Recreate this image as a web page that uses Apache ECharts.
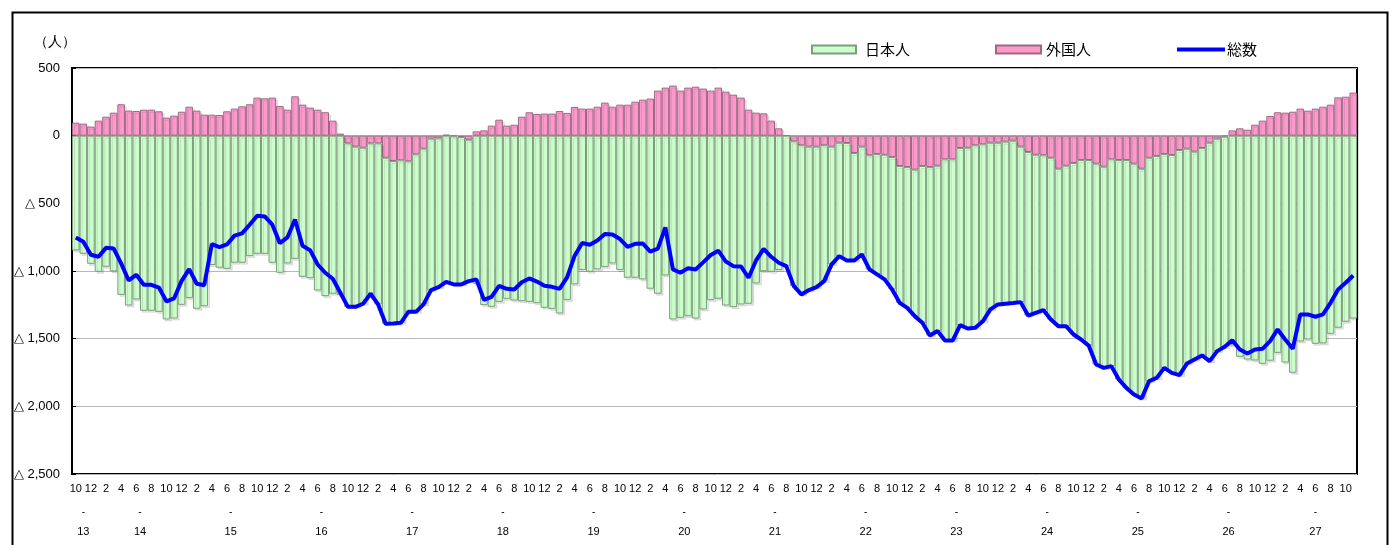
<!DOCTYPE html>
<html>
<head>
<meta charset="utf-8">
<script src="https://cdn.jsdelivr.net/npm/echarts@6/dist/echarts.min.js"></script>
<style>
  html, body { margin: 0; padding: 0; background: #fff; }
  #main { width: 1397px; height: 545px; }
</style>
</head>
<body>
<div id="main"></div>
<script>
// 平成13年10月 ～ 平成27年11月（月次）
var startYear = 13;
var startMonth = 10;
var monthCount = 170;

var yTicks = [500, 0, -500, -1000, -1500, -2000, -2500];

// 外国人（人）
var foreign = [
    96, 89, 67, 111, 140, 170, 232, 185, 182, 192,
    192, 180, 133, 148, 177, 214, 185, 155, 155, 153,
    180, 200, 217, 232, 281, 276, 281, 219, 192, 291,
    229, 207, 192, 173, 111, 15, -57, -81, -89, -57,
    -57, -163, -187, -182, -190, -138, -96, -22, -20, 7,
    -5, -10, -30, 32, 39, 74, 118, 74, 81, 140,
    173, 160, 163, 163, 182, 168, 212, 200, 200, 214,
    244, 214, 229, 229, 251, 266, 274, 333, 355, 370,
    333, 355, 362, 348, 333, 355, 325, 303, 281, 192,
    170, 165, 111, 54, 2, -42, -71, -81, -81, -71,
    -81, -52, -54, -128, -81, -145, -136, -141, -158, -224,
    -232, -251, -224, -232, -222, -175, -175, -91, -89, -71,
    -64, -52, -52, -44, -37, -81, -121, -141, -145, -163,
    -244, -222, -202, -180, -180, -207, -229, -175, -180, -180,
    -207, -244, -163, -150, -136, -143, -106, -96, -118, -91,
    -52, -22, -7, 39, 54, 44, 81, 111, 145, 173,
    170, 177, 200, 185, 200, 214, 229, 283, 288, 318
];

// 日本人（人）
var japanese = [
    -848, -873, -947, -1006, -969, -1003, -1176, -1255, -1210, -1294,
    -1294, -1302, -1358, -1351, -1250, -1200, -1279, -1260, -956, -976,
    -984, -939, -939, -890, -873, -873, -939, -1013, -944, -910,
    -1043, -1053, -1144, -1186, -1168, -1176, -1208, -1184, -1153, -1111,
    -1190, -1227, -1201, -1201, -1112, -1164, -1151, -1119, -1099, -1087,
    -1094, -1089, -1045, -1094, -1252, -1265, -1228, -1206, -1218, -1223,
    -1228, -1238, -1272, -1280, -1314, -1215, -1099, -993, -1006, -988,
    -971, -944, -993, -1050, -1050, -1062, -1131, -1168, -1033, -1358,
    -1346, -1334, -1351, -1284, -1215, -1205, -1255, -1267, -1247, -1242,
    -1092, -1001, -1006, -993, -966, -1070, -1102, -1060, -1038, -1004,
    -870, -838, -868, -794, -797, -843, -889, -921, -978, -1011,
    -1040, -1083, -1159, -1245, -1222, -1339, -1339, -1309, -1336, -1349,
    -1307, -1232, -1195, -1198, -1200, -1149, -1208, -1168, -1144, -1195,
    -1164, -1186, -1267, -1326, -1371, -1484, -1487, -1528, -1622, -1684,
    -1706, -1698, -1651, -1640, -1580, -1610, -1664, -1588, -1536, -1533,
    -1614, -1570, -1553, -1550, -1634, -1654, -1661, -1686, -1663, -1605,
    -1676, -1752, -1521, -1506, -1538, -1535, -1464, -1419, -1375, -1351
];

// 総数（人）
var total = [
    -752, -784, -880, -895, -829, -833, -944, -1070, -1028, -1102,
    -1102, -1122, -1225, -1203, -1073, -986, -1094, -1105, -801, -823,
    -804, -739, -722, -658, -592, -597, -658, -794, -752, -619,
    -814, -846, -952, -1013, -1057, -1161, -1265, -1265, -1242, -1168,
    -1247, -1390, -1388, -1383, -1302, -1302, -1247, -1141, -1119, -1080,
    -1099, -1099, -1075, -1062, -1213, -1191, -1110, -1132, -1137, -1083,
    -1055, -1078, -1109, -1117, -1132, -1047, -887, -793, -806, -774,
    -727, -730, -764, -821, -799, -796, -857, -835, -678, -988,
    -1013, -979, -989, -936, -882, -850, -930, -964, -966, -1050,
    -922, -836, -895, -939, -964, -1112, -1173, -1141, -1119, -1075,
    -951, -890, -922, -922, -878, -988, -1025, -1062, -1136, -1235,
    -1272, -1334, -1383, -1477, -1444, -1514, -1514, -1400, -1425, -1420,
    -1371, -1284, -1247, -1242, -1237, -1230, -1329, -1309, -1289, -1358,
    -1408, -1408, -1469, -1506, -1551, -1691, -1716, -1703, -1802, -1864,
    -1913, -1942, -1814, -1790, -1716, -1753, -1770, -1684, -1654, -1624,
    -1666, -1592, -1560, -1511, -1580, -1610, -1580, -1575, -1518, -1432,
    -1506, -1575, -1321, -1321, -1338, -1321, -1235, -1136, -1087, -1033
];

// 月ラベルと年
var months = [];
var years = [];
for (var i = 0; i < monthCount; i++) {
    var m = (startMonth - 1 + i) % 12 + 1;
    var y = startYear + Math.floor((startMonth - 1 + i) / 12);
    months.push(String(m));
    years.push(y);
}

var numFont = "'Liberation Sans Narrow', 'Liberation Sans', sans-serif";
var jpFont = "'Noto Sans CJK JP', sans-serif";

function yLabel(v) {
    if (v >= 0) return String(v);
    var s = String(-v).replace(/\B(?=(\d{3})+(?!\d))/g, ',');
    return '△ ' + s;
}

var myChart = echarts.init(document.getElementById('main'));

var option = {
    animation: false,
    grid: {
        left: 72,
        right: 40,
        top: 68,
        bottom: 71,
        show: true,
        borderColor: '#000',
        borderWidth: 2
    },
    legend: [
        {
            data: [{ name: '日本人', icon: 'rect' }], left: 806, top: 37,
            itemWidth: 44, itemHeight: 8,
            textStyle: { fontSize: 15, color: '#000', fontFamily: jpFont, padding: [0, 0, 0, 4] }
        },
        {
            data: [{ name: '外国人', icon: 'rect' }], left: 990, top: 37,
            itemWidth: 45, itemHeight: 8,
            textStyle: { fontSize: 15, color: '#000', fontFamily: jpFont }
        },
        {
            data: [{ name: '総数', icon: 'rect' }], left: 1172, top: 37,
            itemWidth: 48, itemHeight: 4,
            textStyle: { fontSize: 15, color: '#000', fontFamily: jpFont, padding: [0, 0, 0, -3] }
        }
    ],
    xAxis: {
        type: 'category',
        data: months,
        axisLine: { show: false },
        axisTick: { show: false },
        splitLine: { show: false },
        axisLabel: {
            interval: 1,
            fontSize: 11,
            color: '#000',
            margin: 9,
            fontFamily: numFont
        }
    },
    yAxis: {
        type: 'value',
        min: -2500,
        max: 500,
        interval: 500,
        axisLine: { show: false },
        axisTick: { show: true, inside: true, length: 4, lineStyle: { color: '#000' } },
        axisLabel: {
            formatter: yLabel,
            fontSize: 13,
            color: '#000',
            margin: 12,
            fontFamily: "'Liberation Sans', sans-serif"
        },
        splitLine: { lineStyle: { color: '#b8b8b8', width: 1 } }
    },
    series: [
        {
            name: '外国人',
            type: 'bar',
            stack: 'pop',
            data: foreign,
            barWidth: '100%',
            barCategoryGap: '0%',
            itemStyle: {
                color: '#ff99cc',
                borderColor: '#9a6a82',
                borderWidth: 1,
                shadowColor: 'rgba(0,0,0,0.1)',
                shadowOffsetX: 2,
                shadowOffsetY: 2
            }
        },
        {
            name: '日本人',
            type: 'bar',
            stack: 'pop',
            data: japanese,
            barWidth: '100%',
            barCategoryGap: '0%',
            itemStyle: {
                color: '#ccffcc',
                borderColor: '#7f9c7f',
                borderWidth: 1,
                shadowColor: 'rgba(0,0,0,0.1)',
                shadowOffsetX: 2,
                shadowOffsetY: 2
            }
        },
        {
            name: '総数',
            type: 'line',
            data: total,
            symbol: 'none',
            z: 5,
            color: '#0000ff',
            itemStyle: { color: '#0000ff' },
            lineStyle: { color: '#0000ff', width: 4 }
        }
    ],
    graphic: []
};

myChart.setOption(option);

// 年ラベル（各年の月範囲の中央）
var graphics = [
    {
        type: 'rect', left: 10, top: 10, z: 100,
        shape: { x: 0, y: 0, width: 1375, height: 560 },
        style: { fill: 'none', stroke: '#000', lineWidth: 2 }
    },
    {
        type: 'text', left: 34, top: 35,
        style: { text: '（人）', fontSize: 14, fill: '#000', font: '14px ' + jpFont }
    }
];
var first = 0;
for (var k = 1; k <= monthCount; k++) {
    if (k === monthCount || years[k] !== years[first]) {
        var x0 = myChart.convertToPixel({ xAxisIndex: 0 }, first);
        var x1 = myChart.convertToPixel({ xAxisIndex: 0 }, k - 1);
        var cx = (x0 + x1) / 2;
        graphics.push({
            type: 'text', x: cx, y: 512,
            style: { text: '-', fill: '#000', align: 'center', verticalAlign: 'middle', font: '10px ' + numFont }
        });
        graphics.push({
            type: 'text', x: cx, y: 532,
            style: { text: String(years[first]), fill: '#000', align: 'center', verticalAlign: 'middle', font: '11px ' + numFont }
        });
        first = k;
    }
}
myChart.setOption({ graphic: graphics });
</script>
</body>
</html>
